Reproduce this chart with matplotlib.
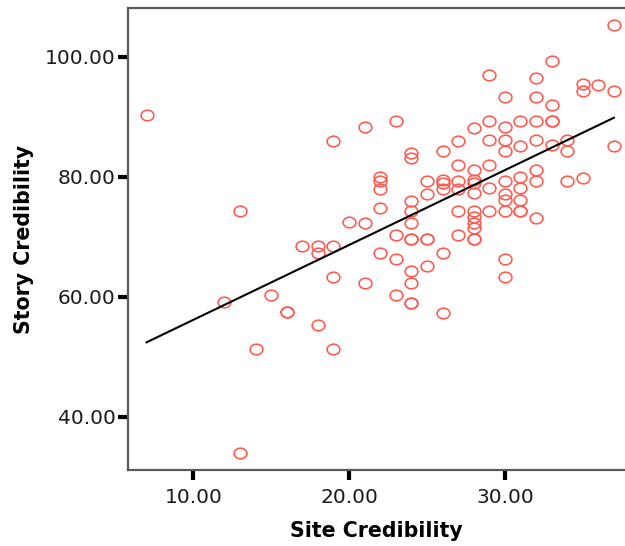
import numpy as np
import matplotlib
matplotlib.use("Agg")
import matplotlib.pyplot as plt
from matplotlib.path import Path
from matplotlib.transforms import Affine2D

# Site credibility (x) and story credibility (y)
site = [7,
        12,
        13, 13,
        14,
        15,
        16, 16,
        17,
        18, 18, 18,
        19, 19, 19, 19,
        20,
        21, 21, 21,
        22, 22, 22, 22, 22,
        23, 23, 23, 23,
        24, 24, 24, 24, 24, 24, 24, 24, 24, 24, 24,
        25, 25, 25, 25, 25,
        26, 26, 26, 26, 26, 26,
        27, 27, 27, 27, 27, 27,
        28, 28, 28, 28, 28, 28, 28, 28, 28, 28, 28,
        29, 29, 29, 29, 29, 29,
        30, 30, 30, 30, 30, 30, 30, 30, 30, 30,
        31, 31, 31, 31, 31, 31, 31,
        32, 32, 32, 32, 32, 32, 32,
        33, 33, 33, 33, 33,
        34, 34, 34,
        35, 35, 35,
        36,
        37, 37, 37]
story = [90.3,
         59.1,
         74.2, 34.0,
         51.2,
         60.2,
         57.4, 57.4,
         68.4,
         68.4, 67.3, 55.2,
         86.0, 68.4, 63.3, 51.2,
         72.4,
         88.2, 72.3, 62.3,
         80.0, 79.2, 77.9, 74.8, 67.3,
         89.2, 70.2, 66.2, 60.2,
         84.0, 83.1, 76.0, 74.2, 72.3, 69.6, 69.6, 64.2, 62.3, 59.0, 59.0,
         79.2, 77.1, 69.6, 69.6, 65.1,
         84.2, 79.5, 78.9, 77.9, 67.3, 57.3,
         86.0, 82.0, 79.2, 77.9, 74.2, 70.2,
         88.1, 81.1, 79.4, 78.9, 77.2, 74.3, 73.2, 72.3, 71.4, 69.6, 69.6,
         97.0, 89.2, 86.1, 82.0, 78.1, 74.2,
         93.2, 88.2, 86.1, 84.3, 79.2, 77.1, 76.1, 74.2, 66.2, 63.3,
         89.2, 85.1, 79.9, 78.1, 76.1, 74.2, 74.2,
         96.4, 93.2, 89.2, 86.1, 81.1, 79.2, 73.1,
         99.2, 92.0, 89.2, 89.2, 85.2,
         86.1, 84.2, 79.2,
         95.4, 94.2, 79.8,
         95.3,
         105.3, 94.2, 85.1]

x_ticks = [10, 20, 30]
y_ticks = [40, 60, 80, 100]
x_label = "Site Credibility"
y_label = "Story Credibility"

x = np.array(site, dtype=float)
y = np.array(story, dtype=float)

fig = plt.figure(figsize=(6.25, 5.46), dpi=100)
ax = fig.add_axes([128/625, 76/546, 1 - 128/625, 462/546])

# horizontally stretched open ellipse marker
circ = Path.unit_circle()
ell = circ.transformed(Affine2D().scale(1.2, 1.0))

ax.plot(x, y, linestyle="none", marker=ell, markersize=9.2,
        markerfacecolor="none", markeredgecolor="#ff5a50",
        markeredgewidth=1.15, zorder=3)

# linear fit line
slope, intercept = np.polyfit(x, y, 1)
xs = np.linspace(x.min(), x.max(), 200)
ax.plot(xs, intercept + slope * xs, color="black", lw=1.5, zorder=4)

ax.set_xlim(5.81, 37.71)
ax.set_ylim(31.1, 108.1)
ax.set_xticks(x_ticks)
ax.set_yticks(y_ticks)
ax.set_xticklabels([f"{v:.2f}" for v in x_ticks])
ax.set_yticklabels([f"{v:.2f}" for v in y_ticks])

for s in ["left", "bottom", "top"]:
    ax.spines[s].set_color("#5a5a5a")
    ax.spines[s].set_linewidth(1.6)
ax.spines["right"].set_visible(False)

ax.tick_params(axis="both", direction="out", length=7, width=3,
               color="black", labelsize=14.5, labelcolor="#1a1a1a")
ax.tick_params(axis="y", pad=2)
ax.tick_params(axis="x", pad=6)

ax.set_xlabel(x_label, fontsize=14.8, fontweight="bold", family="DejaVu Sans",
              labelpad=10)
ax.set_ylabel(y_label, fontsize=14.8, fontweight="bold", family="DejaVu Sans",
              labelpad=8)

fig.savefig("out.png", dpi=100)
